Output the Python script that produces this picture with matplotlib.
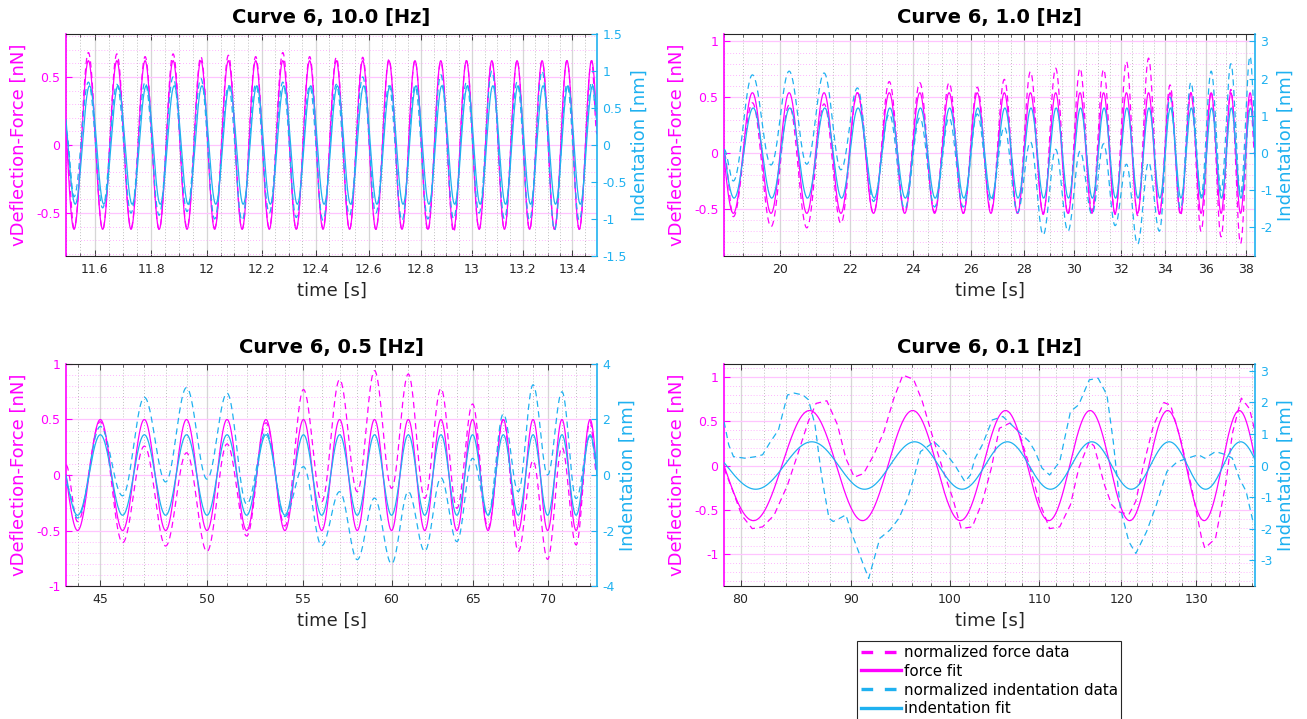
import numpy as np
import matplotlib
matplotlib.use("Agg")
import matplotlib.pyplot as plt
from matplotlib.lines import Line2D
from matplotlib.ticker import FixedLocator, FuncFormatter, NullFormatter

FORCE_COLOR = "#ff00ff"
IND_COLOR = "#1fb1f0"
FRAME_COLOR = "#262626"

curve_id = 6
frequencies = [10.0, 1.0, 0.5, 0.1]

# ---------------- 10.0 Hz ----------------
hz10_window = [11.5, 13.5]
hz10_force_fit = [0.62, 11.578]      # amplitude [nN], time of first peak [s]
hz10_ind_fit = [0.80, 11.582]        # amplitude [nm], time of first peak [s]
hz10_force_peaks = [0.68, 0.67, 0.65, 0.67, 0.65, 0.66, 0.65, 0.68, 0.65, 0.645,
                    0.645, 0.63, 0.62, 0.61, 0.62, 0.615, 0.62, 0.615, 0.62, 0.62]
hz10_force_troughs = [-0.61, -0.62, -0.61, -0.62, -0.61, -0.61, -0.62, -0.61, -0.62, -0.61,
                      -0.62, -0.62, -0.62, -0.63, -0.64, -0.62, -0.62, -0.62, -0.62, -0.62]
hz10_force_edges = [0.05, 0.08]
hz10_ind_peaks = [0.85, 0.82, 0.85, 0.92, 0.90, 0.80, 0.82, 0.85, 0.80, 0.82,
                  0.92, 0.80, 0.80, 0.95, 0.85, 1.00, 0.85, 1.00, 0.82, 0.85]
hz10_ind_troughs = [-0.70, -0.85, -0.92, -0.95, -0.90, -1.00, -1.02, -0.92, -0.98, -1.02,
                    -0.95, -0.92, -1.02, -1.00, -1.00, -0.92, -1.00, -1.02, -1.15, -1.02]
hz10_ind_edges = [0.20, 0.35]

# ---------------- 1.0 Hz ----------------
hz1_window = [18.5, 38.5]
hz1_force_fit = [0.54, 19.24]
hz1_ind_fit = [1.21, 19.26]
hz1_force_peaks = [0.45, 0.43, 0.44, 0.54, 0.64, 0.63, 0.63, 0.59, 0.66, 0.73,
                   0.76, 0.76, 0.75, 0.82, 0.85, 0.61, 0.54, 0.55, 0.57, 0.50]
hz1_force_troughs = [-0.57, -0.66, -0.67, -0.63, -0.54, -0.53, -0.53, -0.54, -0.52, -0.54,
                     -0.55, -0.55, -0.52, -0.55, -0.56, -0.55, -0.56, -0.70, -0.75, -0.81]
hz1_force_edges = [0.0, -0.02]
hz1_ind_peaks = [2.10, 2.20, 2.15, 1.75, 1.05, 0.95, 0.95, 1.05, 0.70, 0.30,
                 0.10, 0.05, 0.25, -0.30, -0.25, 1.50, 1.90, 2.20, 2.40, 2.60]
hz1_ind_troughs = [-0.75, -0.32, -0.30, -0.45, -1.30, -1.50, -1.45, -1.45, -1.30, -1.60,
                   -2.20, -2.10, -1.65, -1.95, -2.45, -2.10, -1.50, -1.15, -1.00, -1.10]
hz1_ind_edges = [0.10, 1.00]

# ---------------- 0.5 Hz ----------------
hz05_window = [43.5, 73.5]
hz05_force_fit = [0.50, 45.0]
hz05_ind_fit = [1.45, 45.0]
hz05_force_peaks = [0.48, 0.26, 0.20, 0.28, 0.47, 0.77, 0.86, 0.94, 0.91, 0.78,
                    0.64, 0.50, 0.13, 0.25, 0.48]
hz05_force_troughs = [-0.42, -0.61, -0.64, -0.69, -0.55, -0.46, -0.24, -0.15, -0.12, -0.21,
                      -0.30, -0.48, -0.69, -0.76, -0.63]
hz05_force_edges = [0.09, 0.0]
hz05_ind_peaks = [1.75, 2.80, 3.15, 2.95, 1.55, 0.30, -0.60, -0.83, -0.60, -0.10,
                  0.60, 2.20, 3.25, 3.00, 1.40]
hz05_ind_troughs = [-1.55, -0.75, -0.25, -0.15, -1.05, -1.50, -2.55, -3.05, -3.20, -2.75,
                    -2.40, -1.45, -0.60, 0.00, -0.85]
hz05_ind_edges = [-0.35, 0.60]

# ---------------- 0.1 Hz ----------------
hz01_window = [78.6, 138.4]
hz01_force_fit = [0.62, 86.1]
hz01_ind_fit = [0.75, 86.3]
hz01_force_t = [78.6, 79.3, 80.1, 81.0, 81.9, 82.9, 84.1, 85.0, 86.0, 86.7, 87.7, 88.7,
                89.5, 90.3, 91.2, 92.2, 93.2, 94.2, 95.1, 96.2, 97.1, 98.1, 99.2, 100.3,
                101.2, 102.4, 103.5, 104.5, 105.4, 106.6, 107.6, 108.8, 110.0, 111.2,
                112.4, 113.7, 114.7, 116.0, 116.6, 117.9, 118.8, 119.7, 121.0, 121.9,
                122.8, 124.2, 125.6, 126.5, 127.9, 129.3, 130.7, 131.2, 132.7, 134.2,
                135.1, 136.4, 137.6, 138.4]
hz01_force_v = [-0.03, -0.27, -0.56, -0.71, -0.69, -0.56, -0.22, 0.12, 0.50, 0.70, 0.73, 0.46,
                0.08, -0.13, -0.09, 0.12, 0.38, 0.76, 1.02, 0.97, 0.72, 0.35, -0.03, -0.37,
                -0.71, -0.69, -0.41, -0.03, 0.42, 0.48, 0.38, 0.01, -0.41, -0.71,
                -0.69, -0.44, -0.03, 0.27, 0.22, -0.22, -0.44, -0.52, -0.55, -0.40,
                -0.03, 0.45, 0.71, 0.68, 0.28, -0.22, -0.80, -0.93, -0.82, -0.18,
                0.36, 0.76, 0.64, 0.38]
hz01_ind_t = [78.6, 79.0, 79.4, 80.4, 81.3, 81.9, 82.5, 83.3, 84.1, 84.7, 85.5, 86.0, 86.6,
              87.2, 87.9, 88.3, 88.9, 89.5, 90.0, 91.2, 91.7, 92.8, 93.8, 94.7, 95.6,
              96.3, 96.9, 98.1, 98.3, 99.4, 100.5, 101.6, 102.2, 102.7, 103.5, 104.6,
              105.8, 107.6, 108.8, 109.5, 110.3, 111.2, 112.4, 113.7, 114.7, 116.0,
              117.1, 118.2, 119.0, 119.9, 121.0, 121.9, 123.3, 124.6, 126.0, 127.4,
              128.8, 130.3, 131.2, 132.7, 134.2, 135.1, 136.1, 137.1, 138.1, 138.4]
hz01_ind_v = [1.39, 0.65, 0.28, 0.23, 0.28, 0.34, 0.70, 1.13, 2.23, 2.29, 2.23, 2.08, 1.29,
              -0.30, -1.67, -1.77, -1.67, -1.56, -2.09, -3.15, -3.57, -2.30, -2.04, -1.67, -1.03,
              -0.30, 0.44, 0.70, 0.76, 0.44, 0.02, -0.51, -0.30, 0.23, 0.65, 1.44,
              1.55, 1.07, 0.76, 0.44, -0.08, -0.30, 0.12, 1.71, 1.92, 2.71,
              2.76, 2.23, 0.76, -1.35, -2.41, -2.78, -2.09, -1.24, -0.19, 0.12,
              0.23, 0.34, 0.23, 0.44, 0.34, 0.23, -0.40, -0.82, -1.77, -1.88]

# axis set-up per panel
x_major = [[11.6, 11.8, 12, 12.2, 12.4, 12.6, 12.8, 13, 13.2, 13.4],
           [20, 22, 24, 26, 28, 30, 32, 34, 36, 38],
           [45, 50, 55, 60, 65, 70],
           [80, 90, 100, 110, 120, 130]]
x_minor_step = [0.05, 0.5, 1.0, 2.0]
force_ylims = [(-0.816, 0.816), (-0.922, 1.066), (-1.0, 1.0), (-1.356, 1.144)]
force_yticks = [[-0.5, 0, 0.5], [-0.5, 0, 0.5, 1], [-1, -0.5, 0, 0.5, 1], [-1, -0.5, 0, 0.5, 1]]
ind_ylims = [(-1.5, 1.5), (-2.766, 3.198), (-4.0, 4.0), (-3.81, 3.21)]
ind_yticks = [[-1.5, -1, -0.5, 0, 0.5, 1, 1.5], [-2, -1, 0, 1, 2, 3], [-4, -2, 0, 2, 4],
              [-3, -2, -1, 0, 1, 2, 3]]
panel_boxes = [[66 / 1307, 1 - 256 / 719, 531 / 1307, 222 / 719],
               [724 / 1307, 1 - 256 / 719, 531 / 1307, 222 / 719],
               [66 / 1307, 1 - 586 / 719, 531 / 1307, 222 / 719],
               [724 / 1307, 1 - 586 / 719, 531 / 1307, 222 / 719]]


def through_extrema(t, knot_t, knot_v):
    """Smooth half-cosine passage between consecutive turning points."""
    knot_t = np.asarray(knot_t, float)
    knot_v = np.asarray(knot_v, float)
    i = np.clip(np.searchsorted(knot_t, t, side="right") - 1, 0, len(knot_t) - 2)
    t0, t1 = knot_t[i], knot_t[i + 1]
    v0, v1 = knot_v[i], knot_v[i + 1]
    s = np.clip((t - t0) / (t1 - t0), 0.0, 1.0)
    return v0 + (v1 - v0) * (1.0 - np.cos(np.pi * s)) / 2.0


def oscillation_knots(window, freq, t_peak, troughs, peaks, edges):
    period = 1.0 / freq
    kt, kv = [window[0]], [edges[0]]
    for k, (lo, hi) in enumerate(zip(troughs, peaks)):
        kt += [t_peak - period / 2 + k * period, t_peak + k * period]
        kv += [lo, hi]
    kt.append(window[1])
    kv.append(edges[1])
    return kt, kv


def sine_fit(t, freq, params):
    amp, t_peak = params
    return amp * np.cos(2 * np.pi * freq * (t - t_peak))


panels = [
    dict(window=hz10_window, ffit=hz10_force_fit, ifit=hz10_ind_fit,
         force=(hz10_force_troughs, hz10_force_peaks, hz10_force_edges),
         ind=(hz10_ind_troughs, hz10_ind_peaks, hz10_ind_edges)),
    dict(window=hz1_window, ffit=hz1_force_fit, ifit=hz1_ind_fit,
         force=(hz1_force_troughs, hz1_force_peaks, hz1_force_edges),
         ind=(hz1_ind_troughs, hz1_ind_peaks, hz1_ind_edges)),
    dict(window=hz05_window, ffit=hz05_force_fit, ifit=hz05_ind_fit,
         force=(hz05_force_troughs, hz05_force_peaks, hz05_force_edges),
         ind=(hz05_ind_troughs, hz05_ind_peaks, hz05_ind_edges)),
    dict(window=hz01_window, ffit=hz01_force_fit, ifit=hz01_ind_fit,
         force_pts=(hz01_force_t, hz01_force_v), ind_pts=(hz01_ind_t, hz01_ind_v)),
]

fig = plt.figure(figsize=(13.07, 7.19), dpi=100)
dash = (0, (5, 3.5))
label_fmt = FuncFormatter(lambda v, p: f"{v:g}")

for n, (freq, p) in enumerate(zip(frequencies, panels)):
    ax = fig.add_axes(panel_boxes[n])
    ax2 = ax.twinx()
    lo, hi = p["window"]
    t = np.linspace(lo, hi, 4000)

    if "force_pts" in p:
        ft, fv = p["force_pts"]
        it, iv = p["ind_pts"]
    else:
        kt, kv = oscillation_knots(p["window"], freq, p["ffit"][1], *p["force"])
        ft, fv = t, through_extrema(t, kt, kv)
        kt, kv = oscillation_knots(p["window"], freq, p["ffit"][1], *p["ind"])
        it, iv = t, through_extrema(t, kt, kv)

    ax.plot(ft, fv, color=FORCE_COLOR, lw=0.9, ls=dash)
    ax.plot(t, sine_fit(t, freq, p["ffit"]), color=FORCE_COLOR, lw=0.9)
    ax2.plot(it, iv, color=IND_COLOR, lw=0.9, ls=dash)
    ax2.plot(t, sine_fit(t, freq, p["ifit"]), color=IND_COLOR, lw=0.9)

    # log-scaled time axis
    ax.set_xscale("log")
    ax.set_xlim(lo, hi)
    step = x_minor_step[n]
    minors = [v for v in np.arange(np.ceil(lo / step) * step, hi, step)
              if min(abs(v - m) for m in x_major[n]) > step / 10]
    ax.xaxis.set_major_locator(FixedLocator(x_major[n]))
    ax.xaxis.set_minor_locator(FixedLocator(minors))
    ax.xaxis.set_major_formatter(label_fmt)
    ax.xaxis.set_minor_formatter(NullFormatter())

    ax.set_ylim(*force_ylims[n])
    ax.yaxis.set_major_locator(FixedLocator(force_yticks[n]))
    ax.yaxis.set_minor_locator(FixedLocator(np.round(np.arange(-1.5, 1.5, 0.1), 2)))
    ax.yaxis.set_major_formatter(label_fmt)
    ax2.set_ylim(*ind_ylims[n])
    ax2.yaxis.set_major_locator(FixedLocator(ind_yticks[n]))
    ax2.yaxis.set_major_formatter(label_fmt)

    ax.set_axisbelow(True)
    ax.grid(True, which="major", axis="x", color="#d6d6d6", lw=0.9, ls="-")
    ax.grid(True, which="minor", axis="x", color="#a8a8a8", lw=0.6, ls=(0, (1, 2.5)))
    ax.grid(True, which="major", axis="y", color="#ffc4ff", lw=0.9, ls="-")
    ax.grid(True, which="minor", axis="y", color="#ff9cff", lw=0.6, ls=(0, (1, 2.5)))

    ax.tick_params(axis="x", which="both", direction="in", top=True, bottom=True,
                   color=FRAME_COLOR, labelcolor=FRAME_COLOR, labelsize=9, pad=5)
    ax.tick_params(axis="x", which="major", length=4, width=0.6)
    ax.tick_params(axis="x", which="minor", length=2.5, width=0.5)
    ax.tick_params(axis="y", which="major", direction="in", length=4, width=0.8,
                   color=FORCE_COLOR, labelcolor=FORCE_COLOR, labelsize=9, pad=4)
    ax.tick_params(axis="y", which="minor", length=0)
    ax2.tick_params(axis="y", which="major", direction="in", length=4, width=0.8,
                    color=IND_COLOR, labelcolor=IND_COLOR, labelsize=9, pad=4)

    for side in ("top", "bottom"):
        ax.spines[side].set_color(FRAME_COLOR)
        ax.spines[side].set_linewidth(0.8)
        ax2.spines[side].set_visible(False)
    ax.spines["left"].set_color(FORCE_COLOR)
    ax.spines["left"].set_linewidth(1.2)
    ax.spines["right"].set_visible(False)
    ax2.spines["left"].set_visible(False)
    ax2.spines["right"].set_color(IND_COLOR)
    ax2.spines["right"].set_linewidth(1.2)

    ax.set_title(f"Curve {curve_id}, {freq:.1f} [Hz]", fontsize=14, fontweight="bold", pad=8)
    ax.set_xlabel("time [s]", fontsize=13, color=FRAME_COLOR, labelpad=4)
    ax.set_ylabel("vDeflection-Force [nN]", fontsize=13, color=FORCE_COLOR, labelpad=6)
    ax2.set_ylabel("Indentation [nm]", fontsize=13, color=IND_COLOR, labelpad=3)

legend_handles = [
    Line2D([], [], color=FORCE_COLOR, lw=2.4, ls=(0, (3.5, 3.5))),
    Line2D([], [], color=FORCE_COLOR, lw=2.4),
    Line2D([], [], color=IND_COLOR, lw=2.4, ls=(0, (3.5, 3.5))),
    Line2D([], [], color=IND_COLOR, lw=2.4),
]
legend_labels = ["normalized force data", "force fit", "normalized indentation data",
                 "indentation fit"]
leg = fig.legend(legend_handles, legend_labels, loc="upper left",
                 bbox_to_anchor=(857 / 1307, 1 - 641 / 719), borderaxespad=0,
                 fontsize=10.8, frameon=True, fancybox=False, framealpha=1,
                 edgecolor=FRAME_COLOR, handlelength=2.7, handletextpad=0.15,
                 labelspacing=0.26, borderpad=0.25)
leg.get_frame().set_linewidth(0.8)

fig.savefig("out.png", dpi=100)
